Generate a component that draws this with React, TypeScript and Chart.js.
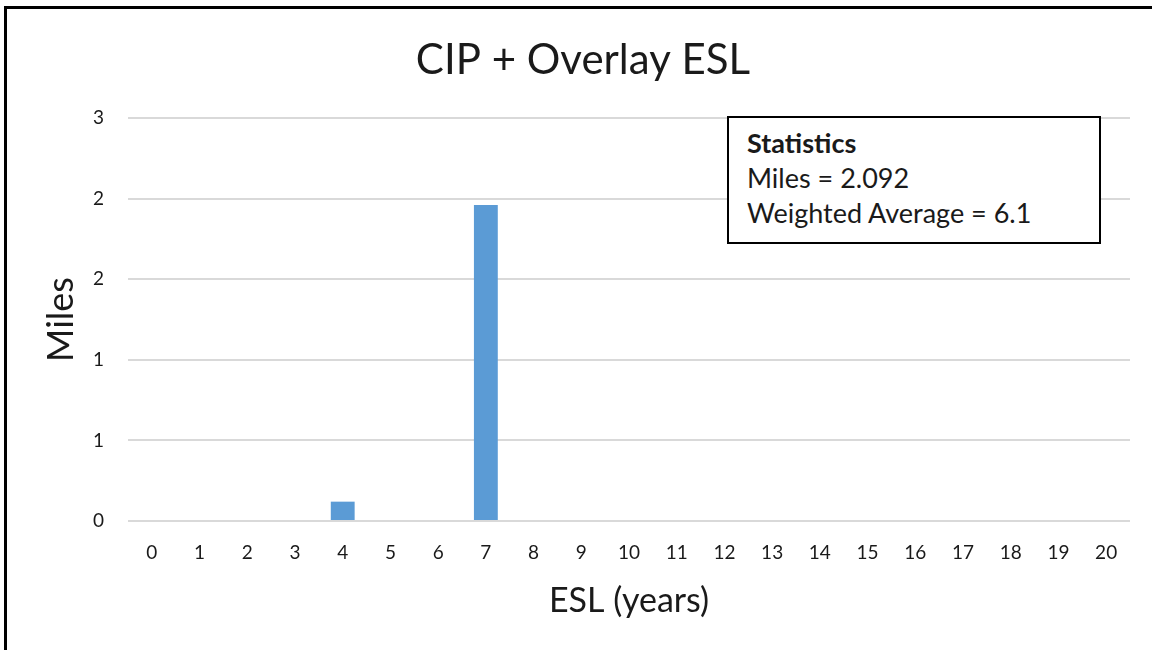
import React, { useEffect, useRef } from "react";
import { Chart, registerables } from "chart.js";

Chart.register(...registerables);

const categories = ["0", "1", "2", "3", "4", "5", "6", "7", "8", "9", "10", "11", "12", "13", "14", "15", "16", "17", "18", "19", "20"];
const miles = [0, 0, 0, 0, 0.12, 0, 0, 1.96, 0, 0, 0, 0, 0, 0, 0, 0, 0, 0, 0, 0, 0];
const yMin = 0;
const yMax = 2.5;
const yStep = 0.5;
const chartTitle = "CIP + Overlay ESL";
const xTitle = "ESL (years)";
const yTitle = "Miles";
const statsTitle = "Statistics";
const statsLines = ["Miles = 2.092", "Weighted Average = 6.1"];

const FONT = "Lato, 'Noto Sans', sans-serif";
const TEXT = "#1a1a1a";

export default function App() {
  const canvasRef = useRef<HTMLCanvasElement | null>(null);

  useEffect(() => {
    document.body.style.margin = "0";
    const canvas = canvasRef.current;
    if (!canvas) return;
    const chart = new Chart(canvas, {
      type: "bar",
      data: {
        labels: categories,
        datasets: [
          {
            label: "Miles",
            data: miles,
            backgroundColor: "#5b9bd5",
            borderWidth: 0,
            barPercentage: 0.5,
            categoryPercentage: 1,
          },
        ],
      },
      options: {
        animation: false,
        responsive: false,
        maintainAspectRatio: false,
        layout: { padding: { left: 36, right: 22, top: 0, bottom: 0 } },
        plugins: {
          legend: { display: false },
          tooltip: { enabled: false },
          title: {
            display: true,
            text: chartTitle,
            color: TEXT,
            font: { family: FONT, size: 42, weight: "normal" },
            padding: { top: 35, bottom: 32.6 },
          },
        },
        scales: {
          x: {
            grid: { display: false, drawTicks: false },
            border: { display: false },
            ticks: {
              color: TEXT,
              font: { family: FONT, size: 19 },
              padding: 20,
              maxRotation: 0,
              autoSkip: false,
            },
            title: {
              display: true,
              text: xTitle,
              color: TEXT,
              font: { family: FONT, size: 34 },
              padding: { top: 0, bottom: 29 },
            },
            afterFit: (scale: any) => {
              scale.height = 129;
            },
          },
          y: {
            min: yMin,
            max: yMax,
            grid: { color: "#d9d9d9", lineWidth: 2, drawTicks: false },
            border: { display: false },
            ticks: {
              stepSize: yStep,
              color: TEXT,
              font: { family: FONT, size: 19 },
              padding: 24,
              callback: (v: any) => String(Math.round(Number(v))),
            },
            title: {
              display: true,
              text: yTitle,
              color: TEXT,
              font: { family: FONT, size: 36 },
              padding: { top: 4, bottom: 0 },
            },
            afterFit: (scale: any) => {
              scale.width = 92;
            },
          },
        },
      },
    });
    return () => chart.destroy();
  }, []);

  return (
    <div style={{ position: "relative", width: 1152, height: 650, background: "#fff", overflow: "hidden" }}>
      <canvas ref={canvasRef} width={1152} height={650} style={{ display: "block", width: 1152, height: 650 }} />
      <div
        style={{
          position: "absolute",
          left: 4,
          top: 6,
          width: 1200,
          height: 700,
          borderTop: "3px solid #000",
          borderLeft: "3px solid #000",
          pointerEvents: "none",
        }}
      />
      <div
        style={{
          position: "absolute",
          left: 727,
          top: 116,
          width: 374,
          height: 128,
          boxSizing: "border-box",
          border: "2px solid #000",
          background: "#fff",
          paddingLeft: 18,
          paddingTop: 7,
          fontFamily: FONT,
          fontSize: 27,
          lineHeight: "35px",
          color: TEXT,
        }}
      >
        <div style={{ fontWeight: "bold" }}>{statsTitle}</div>
        {statsLines.map((s) => (
          <div key={s}>{s}</div>
        ))}
      </div>
    </div>
  );
}
